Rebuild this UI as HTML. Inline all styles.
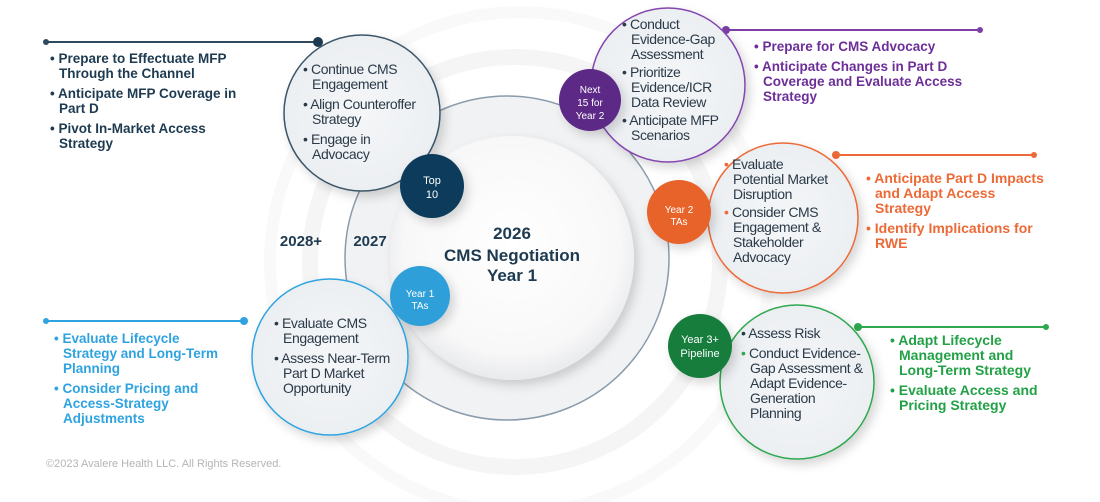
<!DOCTYPE html>
<html><head><meta charset="utf-8"><style>
body{margin:0;width:1100px;height:502px;overflow:hidden;background:#fff;font-family:"Liberation Sans",sans-serif;position:relative}
.t{position:absolute;font-size:14px;line-height:15px;color:#2b3a48;letter-spacing:-0.4px}
.t p{margin:0 0 5px 0;padding-left:9px;text-indent:-9px}
.b{font-weight:bold;font-size:13.5px;letter-spacing:0}
svg{position:absolute;left:0;top:0}
</style></head><body>
<svg width="1100" height="502">
<defs>
<radialGradient id="g1" cx="50%" cy="45%" r="55%"><stop offset="0" stop-color="#fff"/><stop offset="0.8" stop-color="#f8f8f9"/><stop offset="1" stop-color="#e9eaec"/></radialGradient>
<radialGradient id="bub" cx="50%" cy="50%" r="50%"><stop offset="0" stop-color="#f4f6f8"/><stop offset="1" stop-color="#eceff2"/></radialGradient>
<filter id="sh" x="-30%" y="-30%" width="160%" height="160%"><feDropShadow dx="4" dy="5" stdDeviation="5" flood-color="#000" flood-opacity="0.16"/></filter>
</defs>
<circle cx="520" cy="262" r="250" fill="none" stroke="#f9f9f9" stroke-width="12"/>
<circle cx="515" cy="262" r="205" fill="none" stroke="#f5f5f6" stroke-width="16"/>
<circle cx="507" cy="258" r="162" fill="#f1f2f3" stroke="#8a9bab" stroke-width="1.5"/>
<circle cx="512" cy="258" r="122" fill="url(#g1)" filter="url(#sh)"/>
<g stroke-width="2">
<line x1="46" y1="42" x2="318" y2="42" stroke="#2e4a5e"/><circle cx="46" cy="42" r="3" fill="#2e4a5e"/><circle cx="318" cy="42" r="5" fill="#1d3a50"/>
<line x1="726" y1="30" x2="980" y2="30" stroke="#7b3fa6"/><circle cx="726" cy="30" r="4" fill="#7b3fa6"/><circle cx="980" cy="30" r="3" fill="#7b3fa6"/>
<line x1="836" y1="155" x2="1034" y2="155" stroke="#ec6a37"/><circle cx="836" cy="155" r="4" fill="#ec6a37"/><circle cx="1034" cy="155" r="3" fill="#ec6a37"/>
<line x1="858" y1="327" x2="1046" y2="327" stroke="#2fa84f"/><circle cx="858" cy="327" r="4" fill="#2fa84f"/><circle cx="1046" cy="327" r="3" fill="#2fa84f"/>
<line x1="46" y1="321" x2="244" y2="321" stroke="#2ea3e0"/><circle cx="46" cy="321" r="3" fill="#2ea3e0"/><circle cx="244" cy="321" r="4" fill="#2ea3e0"/>
</g>
<circle cx="362" cy="113" r="78" fill="url(#bub)" stroke="#3b5568" stroke-width="1.5" filter="url(#sh)"/>
<circle cx="668" cy="85" r="77" fill="url(#bub)" stroke="#8446b0" stroke-width="1.5" filter="url(#sh)"/>
<circle cx="783" cy="218" r="75" fill="url(#bub)" stroke="#ec6a37" stroke-width="1.5" filter="url(#sh)"/>
<circle cx="797" cy="382" r="77" fill="url(#bub)" stroke="#2fa84f" stroke-width="1.5" filter="url(#sh)"/>
<circle cx="330" cy="357" r="78" fill="url(#bub)" stroke="#2ea3e0" stroke-width="1.5" filter="url(#sh)"/>
<circle cx="432" cy="186" r="32" fill="#0d3a5c" filter="url(#sh)"/>
<circle cx="590" cy="100" r="31" fill="#5b2a86" filter="url(#sh)"/>
<circle cx="679" cy="212" r="32" fill="#e8632c" filter="url(#sh)"/>
<circle cx="700" cy="346" r="32" fill="#167d3c" filter="url(#sh)"/>
<circle cx="420" cy="296" r="30" fill="#2d9fd8" filter="url(#sh)"/>
<g font-family="Liberation Sans, sans-serif" fill="#fff" text-anchor="middle" font-size="11">
<text x="432" y="184">Top</text><text x="432" y="198">10</text>
<text x="590" y="93" font-size="10">Next</text><text x="590" y="106" font-size="10">15 for</text><text x="590" y="119" font-size="10">Year 2</text>
<text x="679" y="213" font-size="10">Year 2</text><text x="679" y="225" font-size="10">TAs</text>
<text x="700" y="343">Year 3+</text><text x="700" y="357">Pipeline</text>
<text x="420" y="297" font-size="10">Year 1</text><text x="420" y="309" font-size="10">TAs</text>
</g>
<g font-family="Liberation Sans, sans-serif" fill="#1d3a50" font-weight="bold" text-anchor="middle">
<text x="512" y="239" font-size="17">2026</text>
<text x="512" y="261" font-size="17">CMS Negotiation</text>
<text x="512" y="281" font-size="17">Year 1</text>
<text x="301" y="246" font-size="15">2028+</text>
<text x="370" y="246" font-size="15">2027</text>
</g>
</svg>
<div class="t b" style="left:50px;top:51px;width:195px;color:#1d3a50">
<p>• Prepare to Effectuate MFP Through the Channel</p><p>• Anticipate MFP Coverage in Part D</p><p>• Pivot In-Market Access Strategy</p></div>
<div class="t" style="left:303px;top:62px;width:124px">
<p>• Continue CMS Engagement</p><p>• Align Counteroffer Strategy</p><p>• Engage in Advocacy</p></div>
<div class="t" style="left:622px;top:17px;width:108px">
<p style="margin-bottom:3px">• Conduct Evidence-Gap Assessment</p><p style="margin-bottom:3px">• Prioritize Evidence/ICR Data Review</p><p>• Anticipate MFP Scenarios</p></div>
<div class="t b" style="left:754px;top:39px;width:220px;color:#6c2e98">
<p>• Prepare for CMS Advocacy</p><p>• Anticipate Changes in Part D Coverage and Evaluate Access Strategy</p></div>
<div class="t" style="left:724px;top:157px;width:112px">
<p style="margin-bottom:3px"><span style="color:#ec6a37">•</span> Evaluate Potential Market Disruption</p><p><span style="color:#ec6a37">•</span> Consider CMS Engagement &amp; Stakeholder Advocacy</p></div>
<div class="t b" style="left:866px;top:171px;width:185px;color:#ec6a37;font-size:14px">
<p>• Anticipate Part D Impacts and Adapt Access Strategy</p><p>• Identify Implications for RWE</p></div>
<div class="t" style="left:741px;top:326px;width:122px">
<p>• Assess Risk</p><p><span style="color:#2fa84f">•</span> Conduct Evidence-Gap Assessment &amp; Adapt Evidence-Generation Planning</p></div>
<div class="t b" style="left:890px;top:333px;width:150px;color:#22a146;font-size:14px">
<p>• Adapt Lifecycle Management and Long-Term Strategy</p><p>• Evaluate Access and Pricing Strategy</p></div>
<div class="t" style="left:274px;top:316px;width:124px">
<p>• Evaluate CMS Engagement</p><p>• Assess Near-Term Part D Market Opportunity</p></div>
<div class="t b" style="left:54px;top:331px;width:170px;color:#2ea3e0">
<p>• Evaluate Lifecycle Strategy and Long-Term Planning</p><p>• Consider Pricing and Access-Strategy Adjustments</p></div>
<div style="position:absolute;left:46px;top:458px;font-size:11px;color:#b5b5b5">©2023 Avalere Health LLC.  All Rights Reserved.</div>
</body></html>
